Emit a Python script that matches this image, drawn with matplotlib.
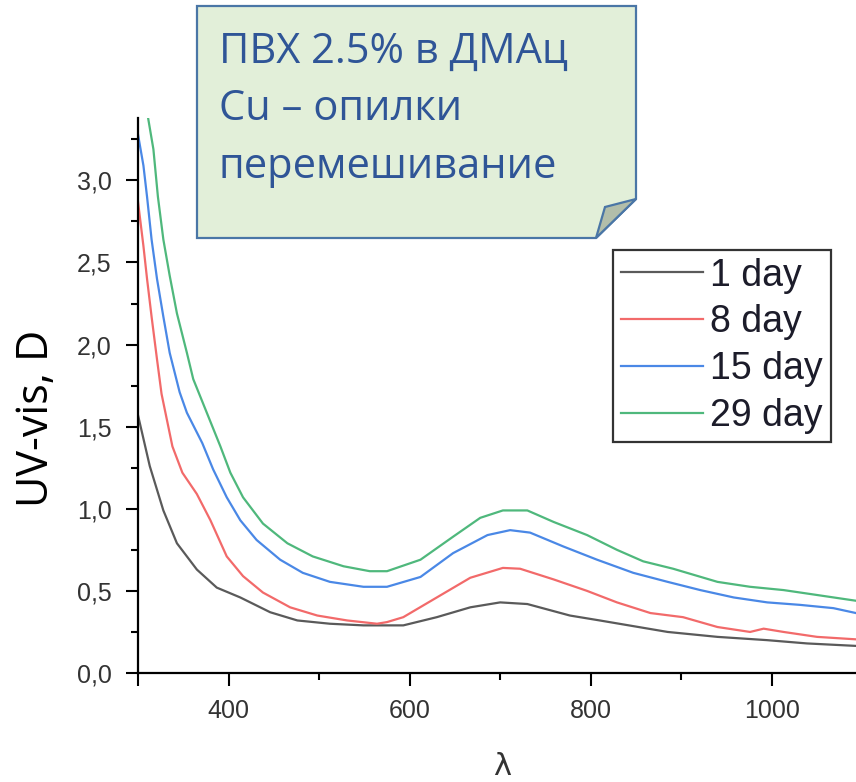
import matplotlib
matplotlib.use("Agg")
import matplotlib.pyplot as plt
from matplotlib.patches import Polygon
from matplotlib.ticker import MultipleLocator, FuncFormatter

# UV-vis spectra
wl_1 = [300, 313, 328, 343, 365, 387, 413, 446, 476, 512, 549, 593, 630, 667, 700,
        730, 777, 810, 885, 940, 995, 1039, 1093]
d_1 = [1.57, 1.26, 0.99, 0.79, 0.63, 0.52, 0.46, 0.37, 0.32, 0.30, 0.29, 0.29, 0.34,
       0.40, 0.43, 0.42, 0.35, 0.32, 0.25, 0.22, 0.20, 0.18, 0.165]

wl_8 = [300, 306, 310, 315, 321, 326, 338, 349, 365, 380, 398, 416, 438, 468, 498,
        531, 564, 575, 593, 630, 667, 703, 722, 759, 796, 829, 866, 902, 940, 976,
        991, 1013, 1050, 1093]
d_8 = [2.87, 2.60, 2.40, 2.17, 1.91, 1.70, 1.38, 1.22, 1.09, 0.93, 0.71, 0.59, 0.49,
       0.40, 0.35, 0.32, 0.30, 0.31, 0.34, 0.46, 0.58, 0.64, 0.635, 0.57, 0.50, 0.43,
       0.365, 0.34, 0.28, 0.25, 0.27, 0.25, 0.22, 0.205]

wl_15 = [300, 306, 310, 315, 321, 328, 335, 346, 354, 371, 383, 398, 413, 431, 457,
         482, 512, 549, 575, 612, 648, 686, 711, 733, 770, 807, 847, 885, 921, 958,
         995, 1031, 1068, 1093]
d_15 = [3.28, 3.09, 2.90, 2.64, 2.40, 2.17, 1.95, 1.71, 1.585, 1.40, 1.24, 1.07, 0.93,
        0.81, 0.69, 0.61, 0.555, 0.525, 0.525, 0.585, 0.73, 0.84, 0.87, 0.855, 0.77,
        0.69, 0.61, 0.555, 0.505, 0.46, 0.43, 0.415, 0.395, 0.365]

wl_29 = [309, 317, 322, 328, 335, 343, 354, 361, 376, 391, 402, 416, 438, 465, 493,
         527, 556, 575, 612, 648, 678, 703, 730, 759, 796, 829, 858, 891, 940, 976,
         1013, 1050, 1093]
d_29 = [3.45, 3.19, 2.90, 2.64, 2.42, 2.19, 1.95, 1.79, 1.585, 1.38, 1.22, 1.07, 0.91,
        0.79, 0.71, 0.65, 0.62, 0.62, 0.69, 0.83, 0.945, 0.99, 0.99, 0.92, 0.84, 0.75,
        0.68, 0.635, 0.555, 0.525, 0.505, 0.475, 0.44]

labels = ["1 day", "8 day", "15 day", "29 day"]
colors = ["#5a5a5a", "#f26a6a", "#4a88e6", "#4fb87c"]

note_lines = ["ПВХ 2.5% в ДМАц", "Cu – опилки", "перемешивание"]

W, H = 856, 782
fig = plt.figure(figsize=(W / 100, H / 100), dpi=100)
ax = fig.add_axes([138 / W, 1 - 673 / H, 1 - 138 / W, (673 - 118) / H])

series = [(wl_1, d_1), (wl_8, d_8), (wl_15, d_15), (wl_29, d_29)]
for (x, y), lab, col in zip(series, labels, colors):
    ax.plot(x, y, color=col, lw=1.6, label=lab)

ax.set_xlim(300, 1093)
ax.set_ylim(0, 3.38)
for side in ("top", "right"):
    ax.spines[side].set_visible(False)
for side in ("left", "bottom"):
    ax.spines[side].set_linewidth(1.6)

ax.xaxis.set_minor_locator(MultipleLocator(100))
ax.set_xticks([300, 400, 600, 800, 1000])
ax.set_xticklabels(["", "400", "600", "800", "1000"])
ax.yaxis.set_major_locator(MultipleLocator(0.5))
ax.yaxis.set_minor_locator(MultipleLocator(0.25))
ax.yaxis.set_major_formatter(FuncFormatter(lambda v, p: f"{v:.1f}".replace(".", ",")))

ax.tick_params(which="major", direction="out", length=9, width=1.5, pad=10,
               labelsize=18, labelcolor="#333333")
ax.tick_params(which="minor", direction="out", length=5, width=1.5)
for lab in ax.get_xticklabels() + ax.get_yticklabels():
    lab.set_family("Liberation Sans")

leg = ax.legend(loc="upper left", bbox_to_anchor=(613 / W, 1 - 250 / H),
                bbox_transform=fig.transFigure, prop={"family": "Liberation Sans", "size": 27},
                handlelength=2.2, handletextpad=0.2, labelspacing=0.29, borderpad=0.2,
                borderaxespad=0, fancybox=False, framealpha=1)
leg.get_frame().set_edgecolor("#333333")
leg.get_frame().set_linewidth(1.6)
for t in leg.get_texts():
    t.set_color("#1c1c2a")

fig.text(37 / W, 1 - 418 / H, "UV-vis, D", rotation=90, ha="center", va="center",
         family="Open Sans", fontsize=31, color="black")
fig.text(502 / W, 1 - 752 / H, "λ", ha="center", va="top", family="DejaVu Sans",
         fontsize=22, color="#333333")

# note box with folded corner
def fxy(px, py):
    return (px / W, 1 - py / H)

box = Polygon([fxy(197, 6), fxy(636, 6), fxy(636, 199), fxy(596, 238), fxy(197, 238)],
              closed=True, transform=fig.transFigure, facecolor="#e2efd9",
              edgecolor="#4a76a6", lw=1.6)
fold = Polygon([fxy(636, 199), fxy(605, 207), fxy(596, 238)], closed=True,
               transform=fig.transFigure, facecolor="#b2beaa", edgecolor="#4a76a6", lw=1.6)
fig.add_artist(box)
fig.add_artist(fold)
for line, base in zip(note_lines, [63, 120, 178]):
    fig.text(219 / W, 1 - base / H, line, ha="left", va="baseline", family="Open Sans",
             fontsize=30, color="#2f5597")

fig.savefig("out.png", dpi=100)
